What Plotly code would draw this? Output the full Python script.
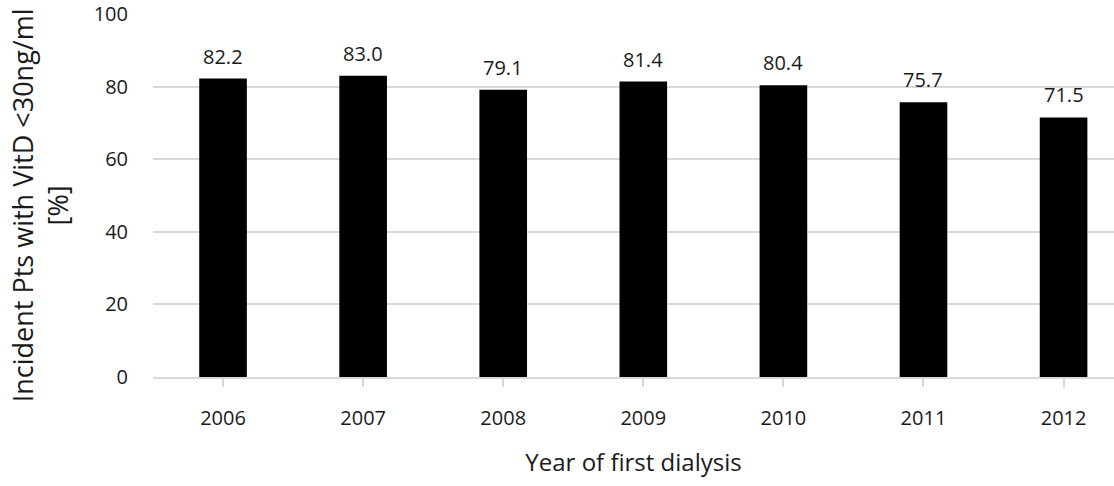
import plotly.graph_objects as go

# Share of incident patients with vitamin D below 30 ng/ml, by year of first dialysis
years = ["2006", "2007", "2008", "2009", "2010", "2011", "2012"]
pct_low_vitd = [82.2, 83.0, 79.1, 81.4, 80.4, 75.7, 71.5]
y_ticks = [0, 20, 40, 60, 80, 100]

FONT = "Open Sans"
TEXT = "#1a1a1a"
GRID = "#d9d9d9"

fig = go.Figure()
fig.add_trace(go.Bar(
    x=list(range(len(years))),
    y=pct_low_vitd,
    marker=dict(color="#000000", line=dict(width=0)),
    width=0.34,
    hoverinfo="x+y",
))

# value labels above each bar
for i, v in enumerate(pct_low_vitd):
    fig.add_annotation(
        x=i, y=v, text=f"{v:.1f}", showarrow=False,
        yanchor="bottom", yshift=7,
        font=dict(family=FONT, size=20, color=TEXT),
    )

# vertical axis title, placed by hand so it can sit a little below centre
fig.add_annotation(
    xref="paper", yref="paper", x=-0.118, y=0.472,
    xanchor="center", yanchor="middle", textangle=-90,
    text="Incident Pts with VitD <30ng/ml<br>[%]", showarrow=False,
    font=dict(family=FONT, size=27, color=TEXT),
)

fig.update_layout(
    width=1114, height=486,
    margin=dict(l=153, r=0, t=11, b=109),
    plot_bgcolor="white", paper_bgcolor="white",
    showlegend=False,
    font=dict(family=FONT, color=TEXT),
)

fig.update_xaxes(
    range=[-0.5, 6.36],
    tickmode="array",
    tickvals=list(range(len(years))),
    ticktext=years,
    tickson="boundaries",
    ticks="outside", ticklen=8, tickwidth=2, tickcolor=GRID,
    showline=True, linecolor=GRID, linewidth=2,
    showgrid=False, zeroline=False,
    ticklabelstandoff=14,
    tickfont=dict(family=FONT, size=20, color=TEXT),
    title=dict(text="Year of first dialysis",
               font=dict(family=FONT, size=24, color=TEXT), standoff=24),
)

fig.update_yaxes(
    range=[0, 100],
    tickvals=y_ticks,
    showgrid=True, gridcolor=GRID, gridwidth=2,
    zeroline=False, showline=False, ticks="",
    ticklabelstandoff=24,
    ticklabeloverflow="allow",
    tickfont=dict(family=FONT, size=20, color=TEXT),
)

fig.write_html("out.html")
